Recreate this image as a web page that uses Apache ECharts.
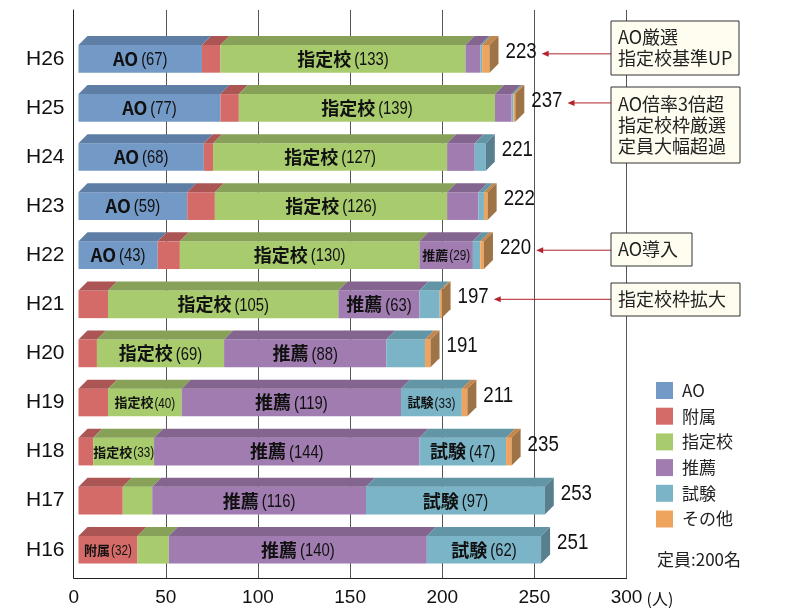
<!DOCTYPE html>
<html><head><meta charset="utf-8">
<script src="https://cdn.jsdelivr.net/npm/echarts@6/dist/echarts.min.js"></script>
<style>html,body{margin:0;padding:0;background:#fff}#c{width:792px;height:608px}</style>
</head><body><div id="c"></div>
<script>
// ---- data ----
const categories = ['H16','H17','H18','H19','H20','H21','H22','H23','H24','H25','H26'];
const seriesNames = ['AO','附属','指定校','推薦','試験','その他'];
const aoVals      = [0, 0, 0, 0, 0, 0, 43, 59, 68, 77, 67];
const fuzokuVals  = [32, 24, 8, 16, 10, 16, 12, 15, 5, 10, 10];
const shiteiVals  = [17, 16, 33, 40, 69, 125, 130, 126, 127, 139, 133];
const suisenVals  = [140, 116, 144, 119, 88, 44, 29, 17, 15, 9, 8];
const shikenVals  = [62, 97, 47, 33, 21, 11, 4, 3, 6, 1, 1];
const sonotaVals  = [0, 0, 3, 3, 3, 1, 2, 2, 0, 1, 4];
// numbers printed inside the segments (null = no label)
const aoLabels     = [null, null, null, null, null, null, 43, 59, 68, 77, 67];
const fuzokuLabels = [32, null, null, null, null, null, null, null, null, null, null];
const shiteiLabels = [null, null, 33, 40, 69, 105, 130, 126, 127, 139, 133];
const suisenLabels = [140, 116, 144, 119, 88, 63, 29, null, null, null, null];
const shikenLabels = [62, 97, 47, 33, null, null, null, null, null, null, null];
const sonotaLabels = [null, null, null, null, null, null, null, null, null, null, null];
const xTicks = [0, 50, 100, 150, 200, 250, 300];
const xUnit = '(人)';
const capacityNote = '定員:200名';
const noteCats  = ['H26', 'H25', 'H22', 'H21'];
const noteTexts = ['AO厳選\n指定校基準UP', 'AO倍率3倍超\n指定校枠厳選\n定員大幅超過', 'AO導入', '指定校枠拡大'];

// ---- style ----
const valueLists = [aoVals, fuzokuVals, shiteiVals, suisenVals, shikenVals, sonotaVals];
const labelLists = [aoLabels, fuzokuLabels, shiteiLabels, suisenLabels, shikenLabels, sonotaLabels];
const frontC = ['#7399C6','#D56B69','#A8CB6D','#A07CB1','#7AB4C6','#EFA45E'];
const topC   = ['#5E7EA5','#AB5654','#87A258','#83658F','#6296A6','#C4864B'];
const sideC  = ['#55739A','#9C4E4C','#7C9650','#765C83','#577F8D','#9E7345'];
const SANS = "'Liberation Sans',Arial,sans-serif";
const JP = "'Noto Sans CJK JP','Noto Sans CJK SC',sans-serif";
const D = 9;           // 3D depth in px
const FACE = 0.564;    // front face height as share of band
const NX = 0.78;       // horizontal condensing of numerals

const totals = categories.map((c, i) => valueLists.reduce((s, l) => s + l[i], 0));
const mctx = document.createElement('canvas').getContext('2d');
function tw(txt, font) { mctx.font = font; return mctx.measureText(txt).width; }

function segSeries(k) {
  const data = categories.map((c, i) => {
    let s = 0;
    for (let j = 0; j < k; j++) s += valueLists[j][i];
    let last = 1;
    for (let j = k + 1; j < valueLists.length; j++) if (valueLists[j][i] > 0) last = 0;
    return [s, s + valueLists[k][i], i, last];
  });
  return {
    type: 'custom', name: seriesNames[k], xAxisIndex: 1, yAxisIndex: 1,
    itemStyle: { color: frontC[k] },
    encode: { x: [0, 1], y: 2 },
    data: data,
    renderItem: function (params, api) {
      const s = api.value(0), e = api.value(1), ci = api.value(2), last = api.value(3);
      if (e - s <= 0) return;
      const p0 = api.coord([s, ci]), p1 = api.coord([e, ci]);
      const h = api.size([0, 1])[1] * FACE;
      const top = p0[1] - h / 2, bot = p0[1] + h / 2, x0 = p0[0], x1 = p1[0];
      const ch = [
        { type: 'rect', shape: { x: x0, y: top, width: x1 - x0, height: h }, style: { fill: frontC[k] } },
        { type: 'polygon', shape: { points: [[x0, top], [x0 + D, top - D], [x1 + D, top - D], [x1, top]] }, style: { fill: topC[k] } }
      ];
      if (last) ch.push({ type: 'polygon', shape: { points: [[x1, top], [x1 + D, top - D], [x1 + D, bot - D], [x1, bot]] }, style: { fill: sideC[k] } });
      const lab = labelLists[k][params.dataIndex];
      if (lab != null) {
        const small = (e - s) < 42;
        const ns = small ? 13 : 18, vs = small ? 15 : 19, gap = small ? 1 : 3;
        const nFont = 'bold ' + ns + 'px ' + JP, vFont = vs + 'px ' + SANS;
        const num = '(' + lab + ')';
        const w1 = tw(seriesNames[k], nFont), w2 = tw(num, vFont) * NX;
        const sx = (x0 + x1) / 2 - (w1 + gap + w2) / 2;
        ch.push({ type: 'text', x: sx, y: p0[1], style: { text: seriesNames[k], x: 0, y: 0,
          align: 'left', verticalAlign: 'middle', font: nFont, fill: '#111' } });
        ch.push({ type: 'text', x: sx + w1 + gap, y: p0[1] + 1, scaleX: NX, style: { text: num, x: 0, y: 0,
          align: 'left', verticalAlign: 'middle', font: vFont, fill: '#111' } });
      }
      return { type: 'group', children: ch };
    }
  };
}

const series = seriesNames.map((n, k) => segSeries(k));
const TOT_FONT = '22px ' + SANS;
// totals
series.push({
  type: 'custom', name: 'total', xAxisIndex: 1, yAxisIndex: 1, silent: true,
  encode: { x: 0, y: 1 },
  data: categories.map((c, i) => [totals[i], i]),
  renderItem: function (params, api) {
    const p = api.coord([api.value(0), api.value(1)]);
    return { type: 'text', x: p[0] + D + 7, y: p[1] - 7, scaleX: 0.85,
      style: { text: String(api.value(0)), x: 0, y: 0, align: 'left', verticalAlign: 'middle', font: TOT_FONT, fill: '#111' } };
  }
});
// arrows from note boxes
const BOX_X = 611;
series.push({
  type: 'custom', name: 'arrows', xAxisIndex: 1, yAxisIndex: 1, silent: true,
  encode: { x: 0, y: 1 },
  data: noteCats.map(c => { const i = categories.indexOf(c); return [totals[i], i]; }),
  renderItem: function (params, api) {
    const v = api.value(0);
    const p = api.coord([v, api.value(1)]);
    const tip = p[0] + D + 7 + tw(String(v), TOT_FONT) * 0.85 + 5;
    const y = p[1] - 5;
    return { type: 'group', children: [
      { type: 'line', shape: { x1: tip + 5, y1: y, x2: BOX_X, y2: y }, style: { stroke: '#B5232B', lineWidth: 1 } },
      { type: 'polygon', shape: { points: [[tip, y], [tip + 7, y - 3], [tip + 7, y + 3]] }, style: { fill: '#B5232B' } }
    ] };
  }
});

const boxes = [
  { y: 21, w: 128, h: 54 },
  { y: 87, w: 129, h: 76 },
  { y: 233, w: 81, h: 33 },
  { y: 283, w: 129, h: 33 }
];
const graphic = [];
noteTexts.forEach((t, i) => {
  const b = boxes[i];
  graphic.push({ type: 'rect', z: 100, shape: { x: BOX_X, y: b.y, width: b.w, height: b.h },
    style: { fill: '#FFFDF0', stroke: '#333', lineWidth: 1 } });
  graphic.push({ type: 'text', z: 101, x: BOX_X + 7, y: b.y + b.h / 2,
    style: { text: t, fontFamily: JP, fontSize: 18, lineHeight: 21, fill: '#222', verticalAlign: 'middle', align: 'left' } });
});
graphic.push({ type: 'text', z: 101, x: 657, y: 560,
  style: { text: capacityNote, fontFamily: JP, fontSize: 17, fill: '#222', verticalAlign: 'middle' } });

const chart = echarts.init(document.getElementById('c'), null, { renderer: 'canvas' });
chart.setOption({
  animation: false,
  backgroundColor: '#fff',
  grid: [
    { left: 73.7, right: 792 - 626.5, top: 10, bottom: 30 },
    { left: 78.5, width: 552.9, top: 34.3, height: 540 }
  ],
  xAxis: [
    { type: 'value', gridIndex: 0, min: xTicks[0], max: xTicks[xTicks.length - 1], interval: xTicks[1] - xTicks[0],
      axisLine: { show: true, lineStyle: { color: '#222', width: 1 } }, axisTick: { show: false },
      splitLine: { show: true, lineStyle: { color: '#555', width: 1 } },
      axisLabel: { fontFamily: SANS, fontSize: 19, color: '#111', margin: 10 } },
    { type: 'value', gridIndex: 1, min: 0, max: 300, show: false }
  ],
  yAxis: [
    { type: 'value', gridIndex: 0, min: 0, max: 1, axisLine: { show: true, lineStyle: { color: '#222' } },
      axisTick: { show: false }, axisLabel: { show: false }, splitLine: { show: false } },
    { type: 'category', gridIndex: 1, data: categories, axisLine: { show: false }, axisTick: { show: false },
      splitLine: { show: false },
      axisLabel: { fontFamily: SANS, fontSize: 21, color: '#111', margin: 14 } }
  ],
  legend: {
    data: seriesNames, orient: 'vertical', left: 656, top: 382, icon: 'rect',
    itemWidth: 17, itemHeight: 17, itemGap: 8.7, padding: 0, selectedMode: false,
    textStyle: { fontFamily: JP, fontSize: 17, color: '#222', padding: [0, 0, 0, 4] }
  },
  graphic: graphic,
  series: series
});
// unit text placed next to the last tick label
const endPx = chart.convertToPixel({ xAxisIndex: 0, yAxisIndex: 0 }, [xTicks[xTicks.length - 1], 0]);
chart.setOption({ graphic: graphic.concat([{ type: 'text', z: 101, x: endPx[0] + 20, y: endPx[1] + 21,
  style: { text: xUnit, fontFamily: JP, fontSize: 16, fill: '#111', verticalAlign: 'middle', align: 'left' } }]) });
</script></body></html>
